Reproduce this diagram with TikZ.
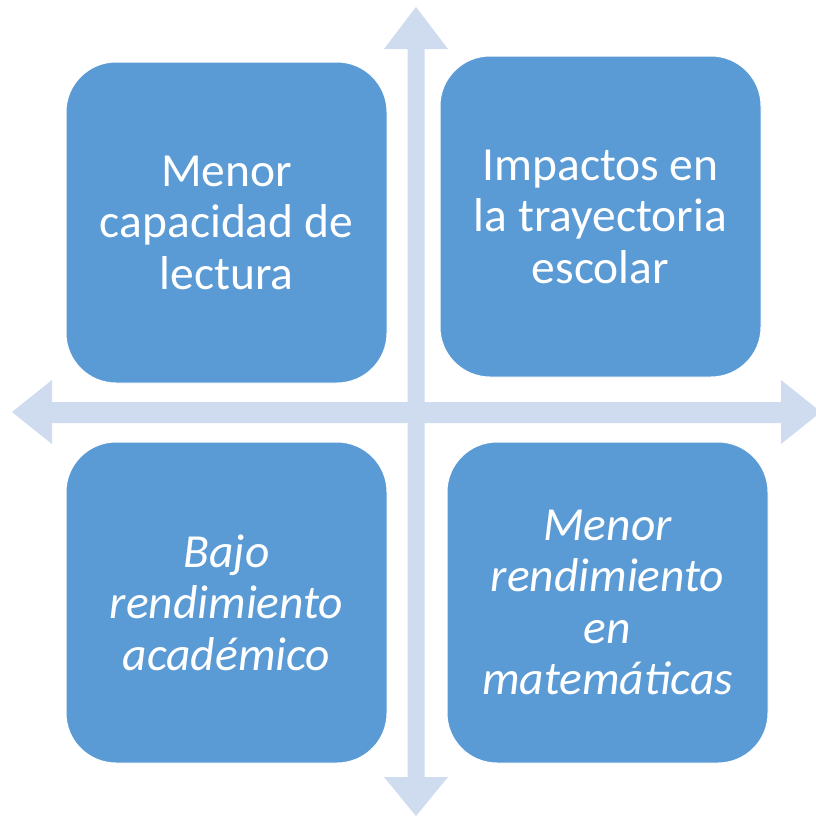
\documentclass[tikz,border=0pt]{standalone}
\usepackage{fontspec}
\setmainfont{Carlito}
\definecolor{boxblue}{HTML}{5B9BD5}
\definecolor{arrowblue}{HTML}{CFDBEE}
\begin{document}
\begin{tikzpicture}[x=1pt,y=-1pt,
  quad/.style={rectangle, rounded corners=50pt, fill=boxblue, draw=white, line width=1pt,
    minimum width=321pt, minimum height=321pt, text=white, align=center,
    font=\fontsize{47.5}{51.5}\selectfont, inner sep=0pt},
  axisarrow/.style={fill=arrowblue, draw=none}]
\useasboundingbox (0,0) rectangle (815,817);
% vertical double arrow
\fill[axisarrow] (416,7) -- (448,49) -- (424.5,49) -- (424.5,777) -- (448,777) -- (416,816)
  -- (384,777) -- (407.5,777) -- (407.5,49) -- (384,49) -- cycle;
% horizontal double arrow
\fill[axisarrow] (12,412) -- (52,380) -- (52,402) -- (781,402) -- (781,380) -- (821,412)
  -- (781,444) -- (781,423) -- (52,423) -- (52,444) -- cycle;
\node[quad] (tl) at (226.5,222.5) {Menor\\capacidad de\\lectura};
\node[quad] (tr) at (600.5,216.5) {Impactos en\\la trayectoria\\escolar};
\node[quad] (bl) at (226.5,602.5) {\itshape Bajo\\\itshape rendimiento\\\itshape académico};
\node[quad] (br) at (607.5,602.5) {\itshape Menor\\\itshape rendimiento\\\itshape en\\\itshape matemáticas};
\end{tikzpicture}
\end{document}
